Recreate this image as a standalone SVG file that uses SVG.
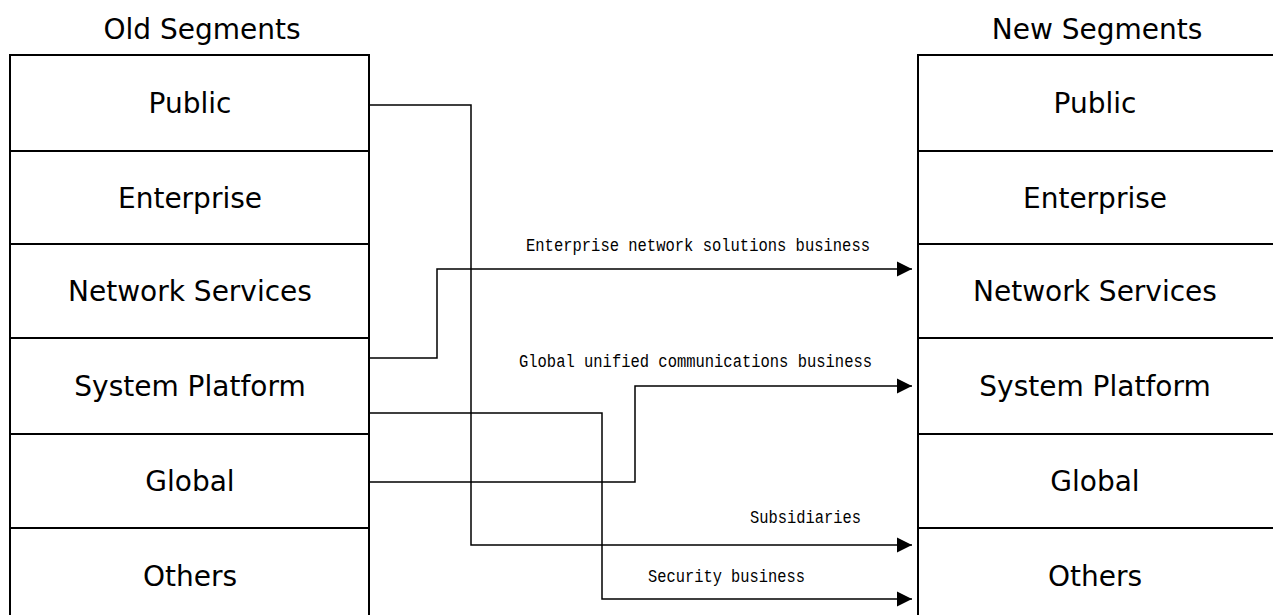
<svg xmlns="http://www.w3.org/2000/svg" width="1273" height="615" viewBox="0 0 1273 615">
<style>
.box{fill:#fff;stroke:#000;stroke-width:2}
.seg{font-family:"DejaVu Sans",Verdana,sans-serif;font-size:28px;fill:#000;text-anchor:middle}
.ttl{font-family:"DejaVu Sans",Verdana,sans-serif;font-size:28px;fill:#000;text-anchor:middle}
.lbl{font-family:"Liberation Mono","DejaVu Sans Mono",monospace;font-size:18px;fill:#000}
.con{fill:none;stroke:#000;stroke-width:1.5}
</style>
<defs>
<marker id="arr" markerUnits="userSpaceOnUse" markerWidth="16" markerHeight="16" viewBox="0 0 16 16" refX="15" refY="8" orient="auto">
<path d="M0,0.5 L15,8 L0,15.5 Z" fill="#000"/>
</marker>
</defs>
<text class="ttl" x="202" y="39">Old Segments</text>
<text class="ttl" x="1097" y="39">New Segments</text>
<g id="old-public"><rect class="box" x="10" y="55" width="359" height="96"/><text class="seg" x="190" y="113">Public</text></g>
<g id="old-enterprise"><rect class="box" x="10" y="151" width="359" height="93"/><text class="seg" x="190" y="208">Enterprise</text></g>
<g id="old-network"><rect class="box" x="10" y="244" width="359" height="94"/><text class="seg" x="190" y="301">Network Services</text></g>
<g id="old-system"><rect class="box" x="10" y="338" width="359" height="96"/><text class="seg" x="190" y="396">System Platform</text></g>
<g id="old-global"><rect class="box" x="10" y="434" width="359" height="94"/><text class="seg" x="190" y="491">Global</text></g>
<g id="old-others"><rect class="box" x="10" y="528" width="359" height="100"/><text class="seg" x="190" y="586">Others</text></g>
<g id="new-public"><rect class="box" x="918" y="55" width="370" height="96"/><text class="seg" x="1095" y="113">Public</text></g>
<g id="new-enterprise"><rect class="box" x="918" y="151" width="370" height="93"/><text class="seg" x="1095" y="208">Enterprise</text></g>
<g id="new-network"><rect class="box" x="918" y="244" width="370" height="94"/><text class="seg" x="1095" y="301">Network Services</text></g>
<g id="new-system"><rect class="box" x="918" y="338" width="370" height="96"/><text class="seg" x="1095" y="396">System Platform</text></g>
<g id="new-global"><rect class="box" x="918" y="434" width="370" height="94"/><text class="seg" x="1095" y="491">Global</text></g>
<g id="new-others"><rect class="box" x="918" y="528" width="370" height="100"/><text class="seg" x="1095" y="586">Others</text></g>
<g id="connectors">
<path class="con" d="M368,105 H471 V545 H912" marker-end="url(#arr)"/>
<path class="con" d="M370,358 H437 V269 H912" marker-end="url(#arr)"/>
<path class="con" d="M368,413 H602 V599 H912" marker-end="url(#arr)"/>
<path class="con" d="M370,482 H635 V386 H912" marker-end="url(#arr)"/>
<text class="lbl" x="526" y="251" textLength="344" lengthAdjust="spacingAndGlyphs">Enterprise network solutions business</text>
<text class="lbl" x="519" y="367" textLength="353" lengthAdjust="spacingAndGlyphs">Global unified communications business</text>
<text class="lbl" x="750" y="523" textLength="111" lengthAdjust="spacingAndGlyphs">Subsidiaries</text>
<text class="lbl" x="648" y="582" textLength="157" lengthAdjust="spacingAndGlyphs">Security business</text>
</g>
</svg>
